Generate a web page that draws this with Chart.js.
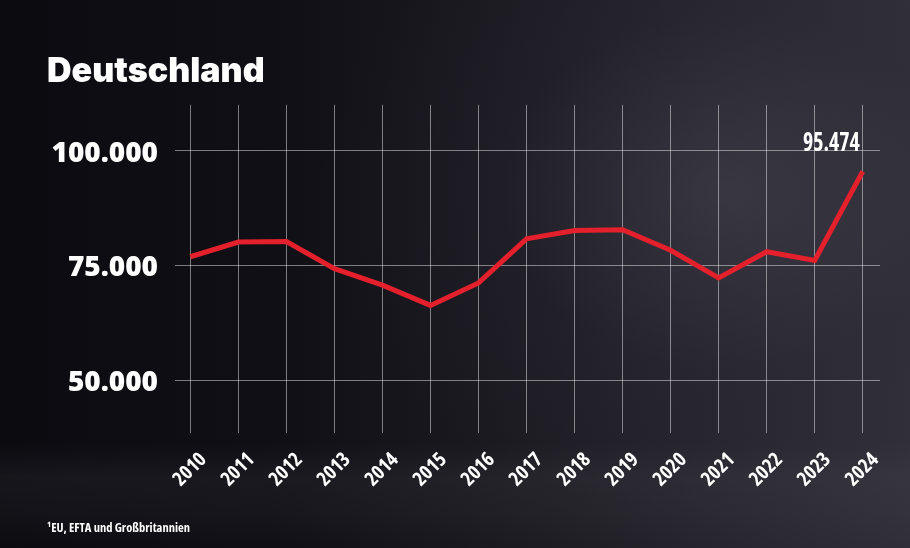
<!DOCTYPE html>
<html lang="de">
<head>
<meta charset="utf-8">
<title>Deutschland</title>
<script src="https://cdn.jsdelivr.net/npm/chart.js@4.4.1/dist/chart.umd.min.js"></script>
<style>
    html, body { margin: 0; padding: 0; background: #0e0d12; }
    #wrap {
        position: relative;
        width: 910px;
        height: 548px;
        overflow: hidden;
        background:
            linear-gradient(to bottom, rgba(0,0,0,0) 0%, rgba(0,0,0,0) 81%, rgba(85,85,92,0.15) 87%, rgba(70,70,76,0.12) 94%, rgba(0,0,0,0.02) 100%),
            radial-gradient(ellipse 45% 60% at 80% 35%, rgba(72,70,84,0.5) 0%, rgba(45,43,54,0.22) 55%, rgba(0,0,0,0) 100%),
            linear-gradient(to right, #0c0b10 0%, #100f15 30%, #1b1a21 55%, #27262e 78%, #313038 100%);
    }
    canvas { display: block; }
</style>
</head>
<body>
<div id="wrap"><canvas id="chart" width="910" height="548"></canvas></div>
<script>
// ==================== DATA ====================
const years = [2010, 2011, 2012, 2013, 2014, 2015, 2016, 2017, 2018, 2019, 2020, 2021, 2022, 2023, 2024];
const values = [76900, 80100, 80200, 74300, 70700, 66300, 71200, 80800, 82600, 82800, 78300, 72300, 78000, 76100, 95474];
const yTicks = [50000, 75000, 100000];
const titleText = 'Deutschland';
const footnoteText = '\u00b9EU, EFTA und Großbritannien';

// ==================== THEME ====================
const THEME = {
    line: '#e3202b',
    grid: 'rgba(255,255,255,0.45)',
    text: '#ffffff',
    heavy: "'Inter', 'Noto Sans', sans-serif",
    axis: "'Open Sans', 'Noto Sans', sans-serif",
    narrow: "'Open Sans', 'Roboto Condensed', sans-serif"
};

const fmt = v => String(v).replace(/\B(?=(\d{3})+(?!\d))/g, '.');

// value label on the last point (condensed by hand to match the print face)
const lastLabel = {
    id: 'lastLabel',
    afterDatasetsDraw(chart) {
        const meta = chart.getDatasetMeta(0);
        const i = values.length - 1;
        const pt = meta.data[i];
        const ctx = chart.ctx;
        ctx.save();
        ctx.translate(pt.x - 3, pt.y - 20);
        ctx.scale(0.84, 1);
        ctx.font = "bold condensed 26px " + THEME.narrow;
        ctx.fillStyle = THEME.text;
        ctx.textAlign = 'right';
        ctx.textBaseline = 'alphabetic';
        ctx.fillText(fmt(values[i]), 0, 0);
        ctx.restore();
    }
};

new Chart(document.getElementById('chart'), {
    type: 'line',
    data: {
        datasets: [{
            data: years.map((y, i) => ({ x: y, y: values[i] })),
            borderColor: THEME.line,
            borderWidth: 5,
            pointRadius: 0,
            tension: 0,
            fill: false
        }]
    },
    options: {
        responsive: false,
        animation: false,
        layout: { padding: { left: 47, top: 20, right: 30, bottom: 0 } },
        plugins: {
            legend: { display: false },
            tooltip: { enabled: false },
            title: {
                display: true,
                text: titleText,
                align: 'start',
                color: THEME.text,
                font: { family: THEME.heavy, size: 34, weight: '900', lineHeight: 1.2 },
                padding: { top: 31, bottom: 13 }
            },
            subtitle: {
                display: true,
                position: 'bottom',
                text: footnoteText,
                align: 'start',
                color: THEME.text,
                font: { family: THEME.narrow, size: 12.5, weight: 'bold condensed', lineHeight: 1.2 },
                padding: { top: 28, bottom: 12 }
            }
        },
        scales: {
            x: {
                type: 'linear',
                min: 2009.68,
                max: 2024.36,
                afterBuildTicks: s => { s.ticks = years.map(v => ({ value: v })); },
                afterFit: s => { s.height = 60; },
                border: { display: false },
                grid: { color: THEME.grid, lineWidth: 1, drawTicks: false },
                ticks: {
                    color: THEME.text,
                    font: { family: THEME.narrow, size: 20, weight: 'bold condensed' },
                    minRotation: 45,
                    maxRotation: 45,
                    padding: 15,
                    labelOffset: 13,
                    callback: v => String(v)
                }
            },
            y: {
                min: 38500,
                max: 110000,
                afterBuildTicks: s => { s.ticks = yTicks.map(v => ({ value: v })); },
                afterFit: s => { s.width = 128; },
                border: { display: false },
                grid: { color: THEME.grid, lineWidth: 1, drawTicks: false },
                ticks: {
                    color: THEME.text,
                    font: { family: THEME.axis, size: 28, weight: '800' },
                    padding: 17,
                    labelOffset: 3,
                    callback: v => fmt(v)
                }
            }
        }
    },
    plugins: [lastLabel]
});
</script>
</body>
</html>
